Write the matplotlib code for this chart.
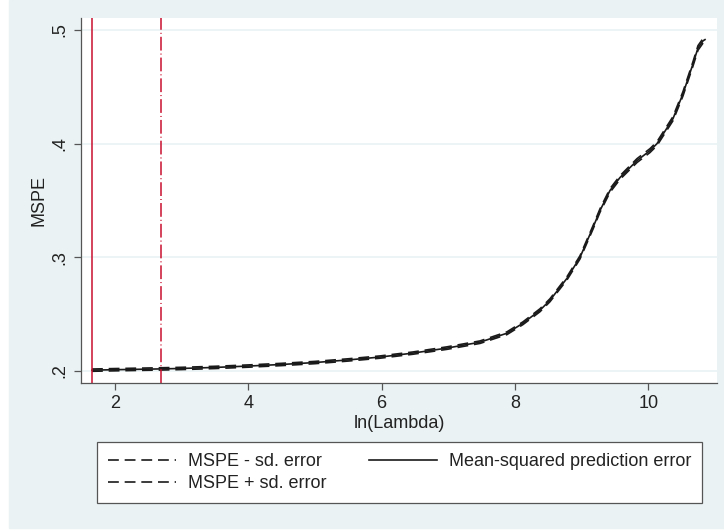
import matplotlib
matplotlib.use("Agg")
import matplotlib.pyplot as plt
from matplotlib.patches import Rectangle

plt.rcParams['font.family'] = ['Liberation Sans', 'DejaVu Sans']

# values
ln_lambda = [1.655, 2.0, 2.69, 3.0, 3.5, 4.0, 4.5, 5.0, 5.5, 5.975, 6.47, 6.98, 7.475,
             7.88, 8.12, 8.375, 8.525, 8.78, 8.975, 9.17, 9.275, 9.425, 9.575, 9.83,
             10.025, 10.13, 10.37, 10.52, 10.67, 10.745, 10.82, 10.85]
mspe = [0.2008, 0.2012, 0.2019, 0.2023, 0.2032, 0.2044, 0.2058, 0.2075, 0.2098, 0.2123,
        0.2158, 0.2202, 0.2254, 0.2333, 0.2421, 0.2535, 0.2623, 0.2816, 0.3000, 0.3263,
        0.3412, 0.3588, 0.3702, 0.3851, 0.3939, 0.4000, 0.4220, 0.4439, 0.4702, 0.4842,
        0.4904, 0.4915]
mspe_lo = [0.1998, 0.2002, 0.2009, 0.2013, 0.2022, 0.2034, 0.2048, 0.2065, 0.2088, 0.2113,
           0.2148, 0.2191, 0.2243, 0.2321, 0.2409, 0.2522, 0.2610, 0.2802, 0.2986, 0.3248,
           0.3397, 0.3572, 0.3686, 0.3834, 0.3922, 0.3983, 0.4202, 0.4420, 0.4683, 0.4822,
           0.4884, 0.4895]
mspe_hi = [0.2018, 0.2022, 0.2029, 0.2033, 0.2042, 0.2054, 0.2068, 0.2085, 0.2108, 0.2133,
           0.2168, 0.2213, 0.2265, 0.2345, 0.2433, 0.2548, 0.2636, 0.2830, 0.3014, 0.3278,
           0.3427, 0.3604, 0.3718, 0.3868, 0.3956, 0.4017, 0.4238, 0.4458, 0.4721, 0.4862,
           0.4924, 0.4935]
lambda_min = 1.655
lambda_1se = 2.69
xticks = [2, 4, 6, 8, 10]
yticks = [0.2, 0.3, 0.4, 0.5]
ytick_labels = ['.2', '.3', '.4', '.5']

bg = '#eaf2f3'
red = '#c8102e'

fig = plt.figure(figsize=(7.24, 5.30), dpi=100, facecolor='white')
fig.patches.append(Rectangle((9 / 724, 2 / 530), 715 / 724, 528 / 530,
                             transform=fig.transFigure, color=bg, zorder=-5))
ax = fig.add_axes([81 / 724, (530 - 383) / 530, 636 / 724, 365 / 530])
ax.set_zorder(2)
ax.set_facecolor('white')

dash = (0, (6.5, 3.5))
ax.plot(ln_lambda, mspe_lo, color='#1a1a1a', lw=1.2, ls=dash, label='MSPE - sd. error')
ax.plot(ln_lambda, mspe_hi, color='#1a1a1a', lw=1.2, ls=dash, label='MSPE + sd. error')
ax.plot(ln_lambda, mspe, color='#1a1a1a', lw=1.2, label='Mean-squared prediction error')

ax.axvline(lambda_min, color=red, lw=1.1)
ax.axvline(lambda_1se, color=red, lw=1.1, ls=(0, (9.0, 2.0, 0.6, 2.0)))

ax.set_xlim(1.49, 11.03)
ax.set_ylim(0.1895, 0.5105)
ax.set_xticks(xticks)
ax.set_yticks(yticks)
ax.set_yticklabels(ytick_labels, rotation=90, va='center')
ax.grid(axis='y', color=bg, lw=1.2)
ax.set_axisbelow(True)
ax.tick_params(labelsize=13, length=5, width=0.9, color='#555555', pad=4, labelcolor='#222222')

for s in ['top', 'right']:
    ax.spines[s].set_visible(False)
for s in ['left', 'bottom']:
    ax.spines[s].set_color('#555555')
    ax.spines[s].set_linewidth(0.9)

ax.set_xlabel('ln(Lambda)', fontsize=13, color='#222222', labelpad=2)
ax.set_ylabel('MSPE', fontsize=13, color='#222222', labelpad=3)

leg = fig.legend(loc='upper left', bbox_to_anchor=(97 / 724, 1 - 442 / 530),
                 ncol=2, fontsize=13, frameon=True, fancybox=False, framealpha=1,
                 handlelength=3.77, handletextpad=0.66, borderpad=0.6, labelspacing=0.3,
                 columnspacing=2.35, borderaxespad=0)
leg.get_frame().set_edgecolor('#555555')
leg.get_frame().set_facecolor('white')
leg.get_frame().set_linewidth(0.9)
for t in leg.get_texts():
    t.set_color('#222222')

fig.savefig('out.png', dpi=100, facecolor=fig.get_facecolor())
